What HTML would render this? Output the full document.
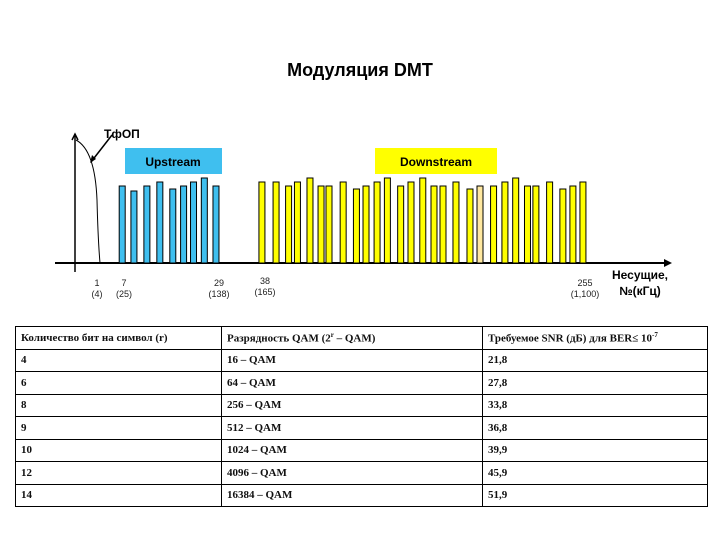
<!DOCTYPE html>
<html><head><meta charset="utf-8"><style>
body{margin:0;background:#fff;width:720px;height:540px;overflow:hidden;position:relative;font-family:"Liberation Sans",sans-serif}
table{position:absolute;left:15px;top:326px;width:693px;border-collapse:collapse;font-family:"Liberation Serif","Noto Serif CJK SC",serif;font-size:11px;font-weight:bold}
td{border:1px solid #000;height:21.5px;padding:0 0 0 5px;color:#111}
</style></head><body>
<svg width="720" height="320" style="position:absolute;left:0;top:0">
<text x="360" y="76" text-anchor="middle" font-size="18" font-weight="bold">Модуляция DMT</text>
<rect x="125" y="148" width="97" height="26" fill="#3fbfef"/>
<text x="173" y="166" text-anchor="middle" font-size="12" font-weight="bold">Upstream</text>
<rect x="375" y="148" width="122" height="26" fill="#ffff00"/>
<text x="436" y="166" text-anchor="middle" font-size="12" font-weight="bold">Downstream</text>
<text x="104" y="138" font-size="12" font-weight="bold">ТфОП</text>
<line x1="75" y1="134" x2="75" y2="272" stroke="#000" stroke-width="1.5"/>
<path d="M72,140 L75,134 L78,140" fill="none" stroke="#000" stroke-width="1.5"/>
<path d="M76,140 Q95,150 97,200 Q98,240 100,263" fill="none" stroke="#000"/>
<line x1="112" y1="135" x2="91" y2="162" stroke="#000" stroke-width="1.5"/>
<path d="M90,163 L92,155 L96,159 Z" fill="#000"/>
<line x1="55" y1="263" x2="666" y2="263" stroke="#000" stroke-width="2"/>
<path d="M664,259 L672,263 L664,267 Z" fill="#000"/>
<g id="bars"></g>
<g font-size="9" text-anchor="middle" fill="#222">
<text x="97" y="286">1</text><text x="97" y="297">(4)</text>
<text x="124" y="286">7</text><text x="124" y="297">(25)</text>
<text x="219" y="286">29</text><text x="219" y="297">(138)</text>
<text x="265" y="284">38</text><text x="265" y="295">(165)</text>
<text x="585" y="286">255</text><text x="585" y="297">(1,100)</text>
</g>
<text x="640" y="279" text-anchor="middle" font-size="12" font-weight="bold">Несущие,</text>
<text x="640" y="295" text-anchor="middle" font-size="12" font-weight="bold">№(кГц)</text>
</svg>
<script>
const upCarriers=[6.6,9.3,12.3,15.3,18.3,20.8,23.1,25.6,28.3];
const upLevels=[77,72,77,81,74,77,81,85,77];
const downCarriers=[37.4,45.5,54,60,68.5,76,81.4,91,100,106.5,114,121,130,137,145,152.6,158.7,167.5,177,183.8,193,200.7,208,216,221.7,231,240,246.8,253.6];
const downLevels=[81,81,77,81,85,77,77,81,74,77,81,85,77,81,85,77,77,81,74,77,77,81,85,77,77,81,74,77,81];
const tickC=[1,7,29,38,255], tickX=[97,124,219,265,585];
function xScale(c){for(let i=0;i<tickC.length-1;i++){if(c<=tickC[i+1]||i==tickC.length-2){return tickX[i]+(c-tickC[i])*(tickX[i+1]-tickX[i])/(tickC[i+1]-tickC[i]);}}}
const base=263;
function yScale(v){return base-v;}
const g=document.getElementById('bars');
function draw(cs,ls,color,nm){cs.forEach((c,i)=>{const r=document.createElementNS('http://www.w3.org/2000/svg','rect');
r.setAttribute('x',xScale(c)-3);r.setAttribute('y',yScale(ls[i]));r.setAttribute('width',6);r.setAttribute('height',base-yScale(ls[i]));
r.setAttribute('fill',(nm=='downstream-bar'&&i==19)?'#ffe8a0':color);r.setAttribute('stroke','#000');r.setAttribute('stroke-width','1');


g.appendChild(r);});}
draw(upCarriers,upLevels,'#3fbfef','upstream-bar');
draw(downCarriers,downLevels,'#ffff00','downstream-bar');
</script>
<table>
<tr><td style="width:200px">Количество бит на символ (r)</td><td style="width:255px">Разрядность QAM (2<sup style="font-size:7px">r</sup> – QAM)</td><td>Требуемое SNR (дБ) для BER≤ 10<sup style="font-size:7px">-7</sup></td></tr>
<tr ><td>4</td><td>16 – QAM</td><td>21,8</td></tr>
<tr ><td>6</td><td>64 – QAM</td><td>27,8</td></tr>
<tr ><td>8</td><td>256 – QAM</td><td>33,8</td></tr>
<tr ><td>9</td><td>512 – QAM</td><td>36,8</td></tr>
<tr><td>10</td><td>1024 – QAM</td><td>39,9</td></tr>
<tr><td>12</td><td>4096 – QAM</td><td>45,9</td></tr>
<tr><td>14</td><td>16384 – QAM</td><td>51,9</td></tr>
</table>
</body></html>
